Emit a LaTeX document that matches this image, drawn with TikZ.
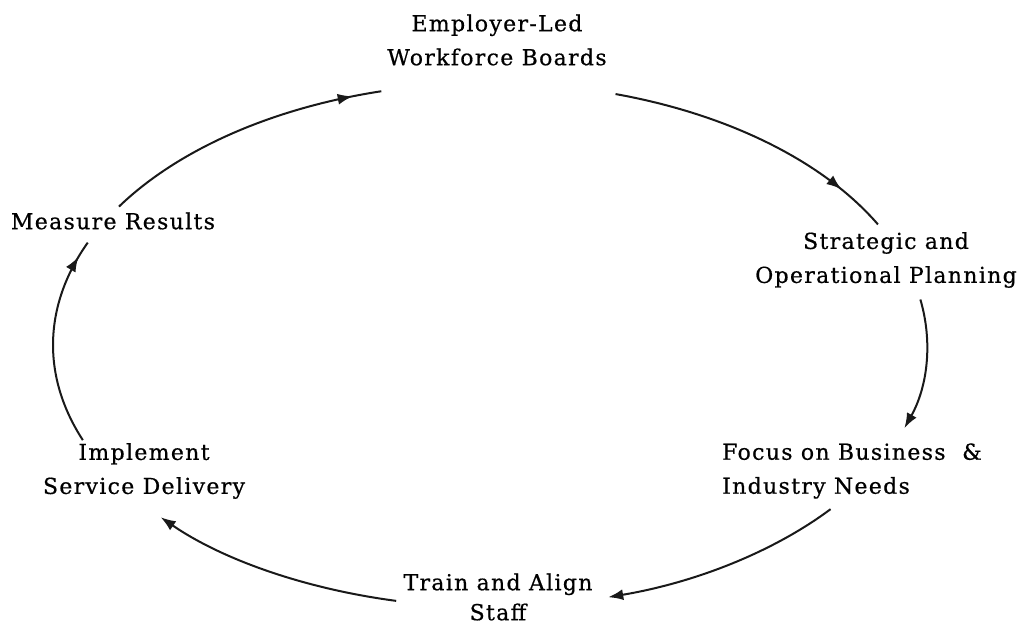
\documentclass[tikz,border=0pt]{standalone}
\usepackage{fontspec}
\setmainfont{DejaVu Serif}[LetterSpace=6, FakeBold=0.6]
\usetikzlibrary{arrows.meta,decorations.markings}
\begin{document}
\begin{tikzpicture}[x=1pt,y=1pt,
  stage/.style={font=\fontsize{22}{34}\selectfont, align=center, inner sep=0pt, text=black},
  cyc/.style={line width=2pt, draw=black!90},
  endtip/.style={-{Latex[length=15pt,width=11pt]}},
  midtip/.style={postaction={decorate}, decoration={markings,
     mark=at position #1 with {\arrow{Latex[length=15pt,width=11pt]}}}}
]
\useasboundingbox (0,0) rectangle (1022,627);

% centre of the cycle; every connector is an arc of one ellipse around it
\coordinate (hub) at (490,282);

% stages of the cycle
\node[stage] (emp) at (497,587) {Employer-Led\\Workforce Boards};
\node[stage] (strat) at (886,367) {Strategic and\\Operational Planning};
\node[stage, anchor=west, align=left] (focus) at (722,156) {Focus on Business\ \ \&\\Industry Needs};
\node[stage, font=\fontsize{22}{30}\selectfont] (train) at (498,30) {Train and Align\\Staff};
\node[stage] (impl) at (144,156) {Implement\\Service Delivery};
\node[stage] (meas) at (113,406) {Measure Results};

% connectors, running clockwise
\draw[cyc, midtip=0.9] (hub) ++(148.1:437 and 262)
  arc[start angle=148.1, end angle=104.4, x radius=437, y radius=262];
\draw[cyc, midtip=0.83] (hub) ++(73.3:437 and 262)
  arc[start angle=73.3, end angle=27.4, x radius=437, y radius=262];
\draw[cyc, endtip] (hub) ++(10:437 and 262)
  arc[start angle=10, end angle=-18.5, x radius=437, y radius=262];
\draw[cyc, endtip] (hub) ++(-38.8:437 and 262)
  arc[start angle=-38.8, end angle=-74.3, x radius=437, y radius=262];
\draw[cyc, endtip] (hub) ++(-102.4:437 and 262)
  arc[start angle=-102.4, end angle=-138.9, x radius=437, y radius=262];
\draw[cyc, midtip=0.92] (hub) ++(-158.7:437 and 262)
  arc[start angle=-158.7, end angle=-203, x radius=437, y radius=262];
\end{tikzpicture}
\end{document}
